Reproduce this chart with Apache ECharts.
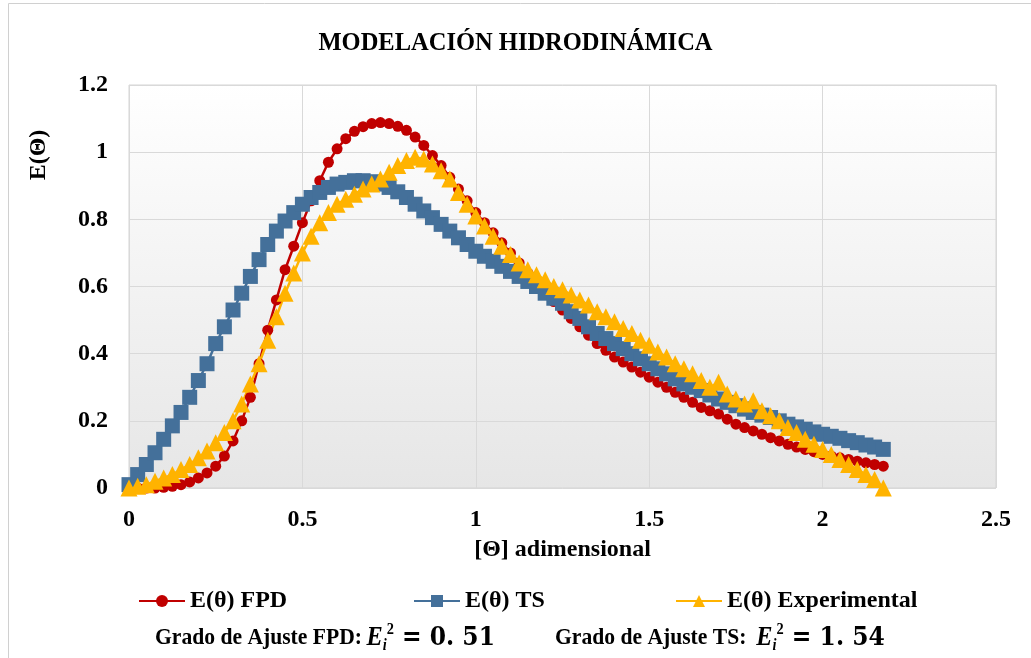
<!DOCTYPE html>
<html>
<head>
	<meta charset="utf-8">
	<title>Modelación hidrodinámica</title>
	<script src="https://cdn.jsdelivr.net/npm/echarts@6/dist/echarts.min.js"></script>
	<style>
		html, body { margin: 0; padding: 0; background: #fff; }
		#main { width: 1031px; height: 658px; }
	</style>
</head>
<body>
	<div id="main"></div>
	<script type="text/javascript">
		// valores de theta (adimensional), comunes a las tres series
		var theta = [0, 0.025, 0.05, 0.075, 0.1, 0.125, 0.15, 0.175, 0.2, 0.225,
			0.25, 0.275, 0.3, 0.325, 0.35, 0.375, 0.4, 0.425, 0.45, 0.475,
			0.5, 0.525, 0.55, 0.575, 0.6, 0.625, 0.65, 0.675, 0.7, 0.725,
			0.75, 0.775, 0.8, 0.825, 0.85, 0.875, 0.9, 0.925, 0.95, 0.975,
			1, 1.025, 1.05, 1.075, 1.1, 1.125, 1.15, 1.175, 1.2, 1.225,
			1.25, 1.275, 1.3, 1.325, 1.35, 1.375, 1.4, 1.425, 1.45, 1.475,
			1.5, 1.525, 1.55, 1.575, 1.6, 1.625, 1.65, 1.675, 1.7, 1.725,
			1.75, 1.775, 1.8, 1.825, 1.85, 1.875, 1.9, 1.925, 1.95, 1.975,
			2, 2.025, 2.05, 2.075, 2.1, 2.125, 2.15, 2.175];

		var eFPD = [0, 0, 0, 0, 0.002, 0.005, 0.01, 0.018, 0.03, 0.045,
			0.065, 0.095, 0.14, 0.2, 0.27, 0.37, 0.47, 0.56, 0.65, 0.72,
			0.79, 0.855, 0.915, 0.97, 1.01, 1.04, 1.062, 1.076, 1.085, 1.088,
			1.085, 1.077, 1.065, 1.045, 1.02, 0.99, 0.96, 0.925, 0.89, 0.855,
			0.82, 0.79, 0.76, 0.73, 0.7, 0.67, 0.64, 0.61, 0.58, 0.555,
			0.53, 0.505, 0.48, 0.455, 0.43, 0.41, 0.39, 0.375, 0.36, 0.345,
			0.33, 0.315, 0.3, 0.285, 0.27, 0.255, 0.24, 0.23, 0.22, 0.205,
			0.19, 0.18, 0.17, 0.16, 0.15, 0.14, 0.13, 0.122, 0.115, 0.108,
			0.1, 0.095, 0.09, 0.085, 0.08, 0.075, 0.07, 0.065];

		var eTS = [0.01, 0.04, 0.07, 0.105, 0.145, 0.185, 0.225, 0.27, 0.32, 0.37,
			0.43, 0.48, 0.53, 0.58, 0.63, 0.68, 0.725, 0.765, 0.795, 0.82,
			0.845, 0.865, 0.88, 0.895, 0.905, 0.91, 0.915, 0.915, 0.912, 0.905,
			0.895, 0.882, 0.865, 0.845, 0.825, 0.805, 0.785, 0.765, 0.745, 0.725,
			0.705, 0.69, 0.675, 0.66, 0.645, 0.63, 0.615, 0.6, 0.58, 0.565,
			0.55, 0.525, 0.505, 0.48, 0.46, 0.445, 0.43, 0.415, 0.4, 0.385,
			0.37, 0.355, 0.34, 0.325, 0.31, 0.3, 0.29, 0.277, 0.265, 0.255,
			0.245, 0.235, 0.225, 0.217, 0.21, 0.2, 0.19, 0.182, 0.175, 0.167,
			0.16, 0.154, 0.148, 0.141, 0.135, 0.128, 0.122, 0.115];

		var eExp = [0, 0.005, 0.01, 0.02, 0.03, 0.04, 0.055, 0.07, 0.09, 0.11,
			0.135, 0.165, 0.2, 0.25, 0.31, 0.37, 0.44, 0.51, 0.58, 0.64,
			0.7, 0.75, 0.79, 0.82, 0.845, 0.86, 0.875, 0.89, 0.905, 0.92,
			0.94, 0.96, 0.975, 0.985, 0.98, 0.965, 0.945, 0.92, 0.88, 0.845,
			0.81, 0.78, 0.75, 0.72, 0.695, 0.67, 0.65, 0.635, 0.62, 0.6,
			0.59, 0.575, 0.56, 0.545, 0.525, 0.51, 0.495, 0.475, 0.46, 0.44,
			0.425, 0.405, 0.39, 0.37, 0.355, 0.34, 0.32, 0.3, 0.315, 0.28,
			0.265, 0.25, 0.26, 0.23, 0.215, 0.2, 0.18, 0.165, 0.145, 0.13,
			0.115, 0.1, 0.085, 0.07, 0.055, 0.04, 0.025, 0];

		var seriesNames = ['E(θ) FPD', 'E(θ) TS', 'E(θ) Experimental'];
		var xTicks = [0, 0.5, 1, 1.5, 2, 2.5];
		var yTicks = [0, 0.2, 0.4, 0.6, 0.8, 1, 1.2];
		var ajusteFPD = '0.51';
		var ajusteTS = '1.54';

		function pares(ys) {
			var out = [];
			for (var i = 0; i < theta.length; i++) {
				out.push([theta[i], ys[i]]);
			}
			return out;
		}

		var font = 'Liberation Serif';
		var txt = { fontFamily: font, fontWeight: 'bold', fontSize: 24, color: '#000' };

		// estilos del texto de grado de ajuste (E_i^2), algo comprimido en horizontal
		var richAjuste = {
			b: { fontFamily: font, fontWeight: 'bold', fontSize: 24, fill: '#000', height: 32, verticalAlign: 'middle' },
			e: { fontFamily: font, fontWeight: 'bold', fontStyle: 'italic', fontSize: 27, fill: '#000', height: 32, verticalAlign: 'middle', padding: [0, 0, 0, 5] },
			sub: { fontFamily: font, fontWeight: 'bold', fontStyle: 'italic', fontSize: 16, fill: '#000', verticalAlign: 'bottom' },
			sup: { fontFamily: font, fontWeight: 'bold', fontSize: 16, fill: '#000', verticalAlign: 'top' },
			m: { fontFamily: 'DejaVu Serif', fontWeight: 'bold', fontSize: 26, fill: '#000', height: 32, verticalAlign: 'middle' }
		};

		var myChart = echarts.init(document.getElementById('main'), null, { renderer: 'canvas' });

		var option = {
			animation: false,
			backgroundColor: '#fff',
			title: {
				text: 'MODELACIÓN HIDRODINÁMICA',
				left: 'center',
				top: 26,
				textStyle: { fontFamily: font, fontWeight: 'bold', fontSize: 24.5, color: '#000' }
			},
			grid: {
				left: 129,
				right: 35,
				top: 85,
				bottom: 170,
				show: true,
				borderColor: '#d4d4d4',
				borderWidth: 1,
				backgroundColor: new echarts.graphic.LinearGradient(0, 0, 0, 1, [
					{ offset: 0, color: '#ffffff' },
					{ offset: 1, color: '#e6e6e6' }
				])
			},
			legend: [
				{ data: [seriesNames[0]], left: 133, top: 584, itemWidth: 46, itemHeight: 15, textStyle: txt },
				{ data: [seriesNames[1]], left: 408, top: 584, itemWidth: 46, itemHeight: 15, textStyle: txt },
				{ data: [seriesNames[2]], left: 670, top: 584, itemWidth: 46, itemHeight: 15, textStyle: txt }
			],
			xAxis: {
				type: 'value',
				min: xTicks[0],
				max: xTicks[xTicks.length - 1],
				interval: 0.5,
				name: '[Θ] adimensional',
				nameLocation: 'middle',
				nameGap: 50,
				nameTextStyle: txt,
				axisLine: { show: false },
				axisTick: { show: false },
				axisLabel: { margin: 20, fontFamily: font, fontWeight: 'bold', fontSize: 24, color: '#000' },
				splitLine: { show: true, lineStyle: { color: '#d9d9d9', width: 1 } }
			},
			yAxis: {
				type: 'value',
				min: yTicks[0],
				max: yTicks[yTicks.length - 1],
				interval: 0.2,
				axisLine: { show: false },
				axisTick: { show: false },
				axisLabel: { margin: 21, fontFamily: font, fontWeight: 'bold', fontSize: 24, color: '#000' },
				splitLine: { show: true, lineStyle: { color: '#d9d9d9', width: 1 } }
			},
			graphic: [
				{
					type: 'rect',
					silent: true,
					shape: { x: 8.5, y: 3.5, width: 1100, height: 800 },
					style: { fill: 'none', stroke: '#d0d0d0', lineWidth: 1 }
				},
				{
					type: 'text',
					x: 39,
					y: 155,
					rotation: Math.PI / 2,
					style: {
						text: 'E(Θ)',
						align: 'center',
						verticalAlign: 'middle',
						font: 'bold 24px "Liberation Serif"',
						fill: '#000'
					}
				},
				{
					type: 'text',
					x: 155,
					y: 638,
					scaleX: 0.9,
					style: {
						text: '{b|Grado de Ajuste FPD:}{e|E}{sub|i}{sup|2}{m| = ' + ajusteFPD.replace('.', '. ') + '}',
						align: 'left',
						verticalAlign: 'middle',
						rich: richAjuste
					}
				},
				{
					type: 'text',
					x: 555,
					y: 638,
					scaleX: 0.9,
					style: {
						text: '{b|Grado de Ajuste TS: }{e|E}{sub|i}{sup|2}{m| = ' + ajusteTS.replace('.', '. ') + '}',
						align: 'left',
						verticalAlign: 'middle',
						rich: richAjuste
					}
				}
			],
			series: [
				{
					name: seriesNames[0],
					type: 'line',
					data: pares(eFPD),
					symbol: 'circle',
					symbolSize: 11,
					color: '#C00000',
					lineStyle: { width: 2.5, color: '#C00000' },
					itemStyle: { color: '#C00000' }
				},
				{
					name: seriesNames[1],
					type: 'line',
					data: pares(eTS),
					symbol: 'rect',
					symbolSize: 15,
					color: '#44709A',
					lineStyle: { width: 2.5, color: '#44709A' },
					itemStyle: { color: '#44709A' }
				},
				{
					name: seriesNames[2],
					type: 'line',
					data: pares(eExp),
					symbol: 'triangle',
					symbolSize: 17,
					color: '#FFB300',
					lineStyle: { width: 2.5, color: '#FFB300' },
					itemStyle: { color: '#FFB300' }
				}
			]
		};

		myChart.setOption(option);
	</script>
</body>
</html>
